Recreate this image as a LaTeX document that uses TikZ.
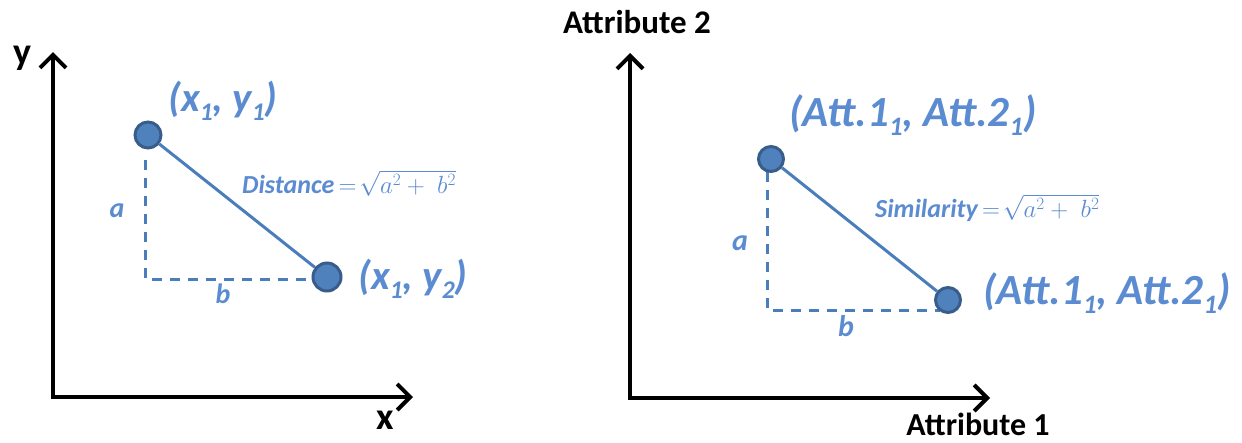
\documentclass[tikz,border=0pt]{standalone}
\usepackage{fontspec}
\setmainfont{Carlito}
\usetikzlibrary{arrows.meta}
\definecolor{ptfill}{HTML}{4F81BD}
\definecolor{ptedge}{HTML}{385D8A}
\definecolor{linkblue}{HTML}{4A7EBB}
\definecolor{txtblue}{HTML}{5B8BD0}
\newcommand{\mysub}[1]{\raisebox{-0.22em}{\fontsize{0.62em}{0.62em}\selectfont #1}}
\tikzset{
  axisline/.style={line width=4pt, line join=miter, {Straight Barb[length=13pt,width=26pt]}-{Straight Barb[length=13pt,width=26pt]}},
  axislabel/.style={font=\bfseries, text=black, inner sep=0pt},
  ptnode/.style={circle, fill=ptfill, draw=ptedge, line width=3pt, minimum size=26pt, inner sep=0pt},
  link/.style={draw=linkblue, line width=3pt},
  dashline/.style={draw=linkblue, line width=3pt, dash pattern=on 10pt off 8pt},
  coordlabel/.style={font=\bfseries\itshape\fontsize{41pt}{44pt}\selectfont, text=txtblue, inner sep=0pt},
  sidelabel/.style={font=\bfseries\itshape\fontsize{28pt}{30pt}\selectfont, text=txtblue, inner sep=0pt},
  formula/.style={font=\bfseries\itshape\fontsize{26pt}{28pt}\selectfont, text=txtblue, inner sep=0pt},
}
\begin{document}
\begin{tikzpicture}[x=1pt,y=-1pt]
\useasboundingbox (0,0) rectangle (1242,442);
% ---------- left panel ----------
\coordinate (ytipL) at (53,52);
\coordinate (oL) at (53,397);
\coordinate (xtipL) at (413,397);
\draw[axisline] (ytipL) -- (oL) -- (xtipL);
\node[axislabel, font=\bfseries\fontsize{38pt}{40pt}\selectfont] (ylab) at (22,58) {y};
\node[axislabel, font=\bfseries\fontsize{38pt}{40pt}\selectfont] (xlab) at (385,420) {x};

\coordinate (cL) at (145,279);
\draw[dashline] (145,160) -- (cL) -- (318,279);
\node[ptnode] (p1) at (148,135) {};
\node[ptnode, minimum size=28pt] (p2) at (327,277) {};
\draw[link] (p1) -- (p2);

\node[coordlabel] (l1) at (223,101) {(x\mysub{1}, y\mysub{1})};
\node[coordlabel] (l2) at (413,279) {(x\mysub{1}, y\mysub{2})};
\node[sidelabel] (aL) at (117,211) {a};
\node[sidelabel] (bL) at (223,294) {b};
\node[formula, anchor=base west] (dL) at (242,193) {Distance\,{\normalfont$=\!\sqrt{a^2+\;b^2}$}};

% ---------- right panel ----------
\coordinate (ytipR) at (630,53);
\coordinate (oR) at (630,398);
\coordinate (xtipR) at (990,398);
\draw[axisline] (ytipR) -- (oR) -- (xtipR);
\node[axislabel, font=\bfseries\fontsize{33pt}{35pt}\selectfont, anchor=base] (a2lab) at (637,33) {Attribute 2};
\node[axislabel, font=\bfseries\fontsize{32pt}{34pt}\selectfont, anchor=base] (a1lab) at (978,435) {Attribute 1};

\coordinate (cR) at (767,310);
\draw[dashline] (767,172) -- (cR) -- (940,310);
\node[ptnode, minimum size=25pt] (q1) at (771,159) {};
\node[ptnode, minimum size=25pt] (q2) at (948,300) {};
\draw[link] (q1) -- (q2);

\node[coordlabel, font=\bfseries\itshape\fontsize{43pt}{46pt}\selectfont] (m1) at (913,115) {(Att.1\mysub{1}, Att.2\mysub{1})};
\node[coordlabel, font=\bfseries\itshape\fontsize{43pt}{46pt}\selectfont] (m2) at (1107,293) {(Att.1\mysub{1}, Att.2\mysub{1})};
\node[sidelabel, font=\bfseries\itshape\fontsize{30pt}{32pt}\selectfont] (aR) at (740,243) {a};
\node[sidelabel, font=\bfseries\itshape\fontsize{30pt}{32pt}\selectfont] (bR) at (846,326) {b};
\node[formula, anchor=base west] (sR) at (875,217) {Similarity\,{\normalfont$=\!\sqrt{a^2+\;b^2}$}};
\end{tikzpicture}
\end{document}
